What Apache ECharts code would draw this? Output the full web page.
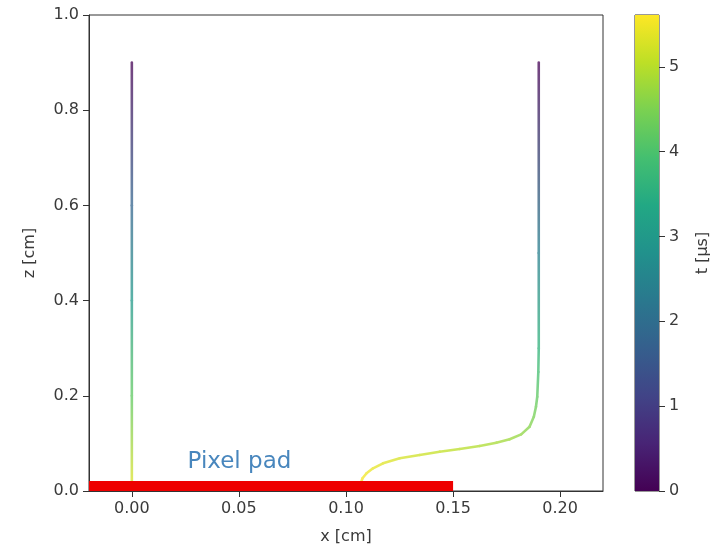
<!DOCTYPE html>
<html>
<head>
<meta charset="utf-8">
<script src="https://cdn.jsdelivr.net/npm/echarts@6/dist/echarts.min.js"></script>
<style>html,body{margin:0;padding:0;background:#fff}#c{width:724px;height:551px}</style>
</head>
<body>
<div id="c"></div>
<script>
// ---- data ----
const xTicks = [0, 0.05, 0.10, 0.15, 0.20];
const zTicks = [0, 0.2, 0.4, 0.6, 0.8, 1.0];
const tTicks = [0, 1, 2, 3, 4, 5];
const tMax = 5.61;

// left track (x = 0)
const trackA_x = [0.0, 0.0, 0.0, 0.0, 0.0];
const trackA_z = [0.9, 0.6, 0.4, 0.2, 0.0];
const trackA_t = [0.0, 1.8, 3.0, 4.2, 5.4];

// right track (x = 0.19, bending onto pad)
const trackB_x = [0.19, 0.19, 0.19, 0.1898, 0.1893, 0.1887, 0.1877, 0.1857, 0.1818, 0.1764, 0.1702, 0.1624, 0.1531, 0.1437, 0.1344, 0.1251, 0.1173, 0.1126, 0.1096, 0.1077, 0.1069, 0.1068];
const trackB_z = [0.9, 0.5, 0.3, 0.25, 0.198, 0.177, 0.156, 0.135, 0.119, 0.1086, 0.1015, 0.0945, 0.0882, 0.0826, 0.0756, 0.0687, 0.0582, 0.0477, 0.0372, 0.0267, 0.0162, 0.0];
const trackB_t = [0.0, 2.4, 3.6, 3.9, 4.2, 4.33, 4.45, 4.57, 4.68, 4.77, 4.85, 4.93, 5.02, 5.1, 5.18, 5.26, 5.35, 5.42, 5.48, 5.53, 5.57, 5.61];

// pixel pad extent
const padX = [-0.02, 0.15];
const padZ = 0;

// ---- viridis colormap ----
const viridis = ['#440154','#482475','#414487','#355f8d','#2a788e','#21918c','#22a884','#44bf70','#7ad151','#bddf26','#fde725'];
function hex2rgb(h){return [parseInt(h.substr(1,2),16),parseInt(h.substr(3,2),16),parseInt(h.substr(5,2),16)];}
function cmap(t, lighten){
  let f = Math.max(0, Math.min(1, t / tMax)) * (viridis.length - 1);
  let i = Math.min(Math.floor(f), viridis.length - 2), r = f - i;
  const a = hex2rgb(viridis[i]), b = hex2rgb(viridis[i+1]);
  const w = lighten || 0;
  return 'rgb(' + a.map((v,k)=>{const c = v + (b[k]-v)*r; return Math.round(c + (255 - c) * w);}).join(',') + ')';
}

function segments(xs, zs, ts){
  const out = [];
  for (let i = 0; i < xs.length - 1; i++) out.push([xs[i], zs[i], ts[i], xs[i+1], zs[i+1], ts[i+1]]);
  return out;
}
const segData = segments(trackA_x, trackA_z, trackA_t).concat(segments(trackB_x, trackB_z, trackB_t));

const txt = '#3a3a3a';
const font = 'DejaVu Sans';
const chart = echarts.init(document.getElementById('c'));
chart.setOption({
  animation: false,
  backgroundColor: '#fff',
  textStyle: {fontFamily: font},
  grid: [
    {left: 89, top: 15, right: 121, bottom: 60, show: true, borderColor: '#333', borderWidth: 1, backgroundColor: 'transparent'},
    {left: 635, top: 15, width: 24, bottom: 60, show: true, borderColor: '#333', borderWidth: 1}
  ],
  xAxis: [
    {type: 'value', gridIndex: 0, min: -0.02, max: 0.22,
     name: 'x [cm]', nameLocation: 'middle', nameGap: 38,
     nameTextStyle: {fontSize: 16, color: txt, fontFamily: font},
     axisLine: {show: true, onZero: false, lineStyle: {color: '#333'}},
     axisTick: {show: true, length: 6, lineStyle: {color: '#333'}, customValues: xTicks},
     axisLabel: {fontSize: 16, color: txt, margin: 10, fontFamily: font, customValues: xTicks, formatter: v => v.toFixed(2)},
     splitLine: {show: false}},
    {type: 'category', gridIndex: 1, data: ['t'], show: false}
  ],
  yAxis: [
    {type: 'value', gridIndex: 0, min: 0, max: 1, interval: 0.2,
     name: 'z [cm]', nameLocation: 'middle', nameGap: 51, nameRotate: 90,
     nameTextStyle: {fontSize: 16, color: txt, fontFamily: font},
     axisLine: {show: true, onZero: false, lineStyle: {color: '#333'}},
     axisTick: {show: true, length: 6, lineStyle: {color: '#333'}},
     axisLabel: {fontSize: 16, color: txt, margin: 10, fontFamily: font, formatter: v => v.toFixed(1)},
     splitLine: {show: false}},
    {type: 'value', gridIndex: 1, min: 0, max: tMax, position: 'right',
     name: 't [μs]', nameLocation: 'middle', nameGap: 36, nameRotate: 90,
     nameTextStyle: {fontSize: 16, color: txt, fontFamily: font},
     axisLine: {show: false},
     axisTick: {show: true, length: 6, lineStyle: {color: '#333'}, customValues: tTicks},
     axisLabel: {fontSize: 16, color: txt, margin: 10, fontFamily: font, customValues: tTicks, formatter: v => String(v)},
     splitLine: {show: false}}
  ],
  series: [
    {type: 'custom', xAxisIndex: 0, yAxisIndex: 0, clip: true, z: 2,
     encode: {x: [0, 3], y: [1, 4]},
     data: segData,
     renderItem: function(params, api){
       const p0 = api.coord([api.value(0), api.value(1)]);
       const p1 = api.coord([api.value(3), api.value(4)]);
       const c0 = cmap(api.value(2), 0.25), c1 = cmap(api.value(5), 0.25);
       const dx = p1[0]-p0[0], dy = p1[1]-p0[1];
       const grad = new echarts.graphic.LinearGradient(p0[0], p0[1], p0[0] + (Math.abs(dx) < 0.01 ? 0.01 : dx), p0[1] + (Math.abs(dy) < 0.01 ? 0.01 : dy), [{offset: 0, color: c0}, {offset: 1, color: c1}], true);
       return {type: 'line', shape: {x1: p0[0], y1: p0[1], x2: p1[0], y2: p1[1]},
               style: {stroke: grad, lineWidth: 2.6, lineCap: 'round'}};
     }},
    {type: 'custom', xAxisIndex: 0, yAxisIndex: 0, z: 5, clip: true,
     encode: {x: [0, 1], y: 2},
     data: [[padX[0], padX[1], padZ]],
     renderItem: function(params, api){
       const a = api.coord([api.value(0), api.value(2)]);
       const b = api.coord([api.value(1), api.value(2)]);
       return {type: 'rect', shape: {x: a[0], y: a[1] - 10, width: b[0] - a[0], height: 10},
               style: {fill: '#ee0000'}};
     }},
    {type: 'scatter', xAxisIndex: 0, yAxisIndex: 0, z: 6, symbolSize: 0,
     data: [[0.026, 0.061]],
     label: {show: true, formatter: 'Pixel pad', position: [0, 0], align: 'left', verticalAlign: 'middle',
             color: '#1a68ad', fontSize: 23, fontFamily: font}},
    {type: 'bar', xAxisIndex: 1, yAxisIndex: 1, barWidth: '100%', data: [tMax],
     itemStyle: {color: new echarts.graphic.LinearGradient(0, 1, 0, 0, viridis.map((c, i) => ({offset: i/(viridis.length-1), color: c})))}}
  ]
});
</script>
</body>
</html>
